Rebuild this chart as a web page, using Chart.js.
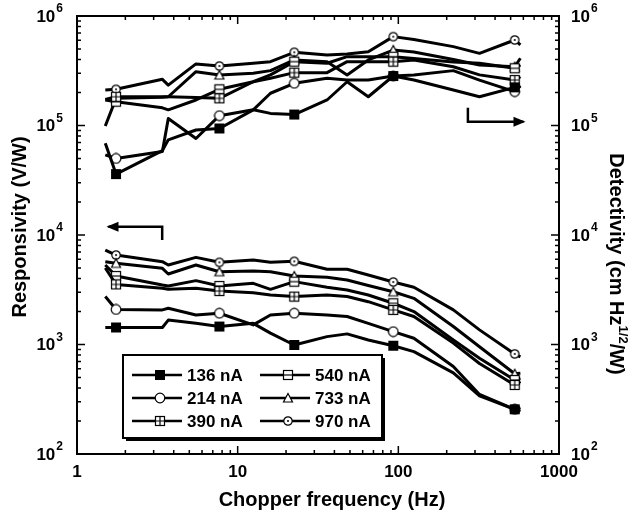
<!DOCTYPE html>
<html>
<head>
<meta charset="utf-8">
<script src="https://cdn.jsdelivr.net/npm/chart.js@4.4.0/dist/chart.umd.min.js"></script>
<style>
  html, body { margin: 0; padding: 0; background: #fff; }
</style>
</head>
<body>
<canvas id="chart" width="632" height="515"></canvas>
<script>
// chopper frequencies (Hz) shared by every curve
const freq = [1.5, 1.75, 3.4, 3.7, 5.5, 7.7, 12.5, 16, 22.5, 36, 48, 65, 93, 125, 220, 320, 530, 575];
// only these points carry a symbol
const markerIdx = [1, 5, 8, 12, 16];
const currents = ['136 nA', '214 nA', '390 nA', '540 nA', '733 nA', '970 nA'];
const markerKinds = ['filledSquare', 'circle', 'squarePlus', 'squareMinus', 'triangle', 'circleDot'];

// responsivity (V/W), left axis
const resp136 = [1430, 1430, 1430, 1670, 1560, 1460, 1560, 1270, 990, 1180, 1250, 1100, 975, 860, 550, 340, 256, 245];
const resp214 = [2740, 2090, 2070, 2140, 1860, 1930, 1510, 1860, 1930, 1860, 1800, 1560, 1310, 1140, 630, 350, 256, 265];
const resp390 = [5000, 3540, 3260, 3190, 3260, 3080, 2970, 2830, 2740, 2830, 2740, 2460, 2070, 1800, 1030, 670, 427, 460];
const resp540 = [5320, 4220, 3490, 3420, 3830, 3420, 3620, 3190, 3750, 3330, 3150, 2830, 2380, 2000, 1100, 750, 474, 490];
const resp733 = [5710, 5510, 4960, 4400, 5320, 4620, 4690, 4620, 4220, 4110, 3880, 3460, 3030, 2640, 1460, 955, 540, 546];
const resp970 = [7290, 6560, 5710, 5320, 6250, 5630, 5910, 5630, 5750, 4860, 4860, 4310, 3720, 3330, 2070, 1360, 820, 770];

// detectivity (cm Hz^1/2 / W), right axis
const det136 = [69000, 36000, 59000, 74000, 91000, 94000, 139000, 129000, 126000, 171000, 251000, 183000, 283000, 260000, 211000, 183000, 223000, 230000];
const det214 = [54000, 50000, 58000, 116000, 76000, 123000, 139000, 197000, 243000, 270000, 260000, 260000, 283000, 289000, 317000, 260000, 204000, 230000];
const det390 = [173000, 183000, 183000, 183000, 180000, 177000, 251000, 270000, 304000, 304000, 383000, 383000, 383000, 397000, 344000, 290000, 260000, 279000];
const det540 = [171000, 165000, 145000, 139000, 171000, 214000, 251000, 290000, 383000, 370000, 425000, 425000, 425000, 410000, 380000, 370000, 333000, 357000];
const det733 = [99000, 177000, 181000, 183000, 310000, 289000, 300000, 317000, 397000, 383000, 289000, 397000, 489000, 470000, 400000, 357000, 344000, 411000];
const det970 = [211000, 214000, 264000, 234000, 365000, 349000, 370000, 383000, 466000, 440000, 450000, 472000, 648000, 610000, 525000, 456000, 604000, 544000];

const respSeries = [resp136, resp214, resp390, resp540, resp733, resp970];
const detSeries = [det136, det214, det390, det540, det733, det970];

// arrows telling which axis each group belongs to (data coordinates)
const leftArrow = {axis: 'y', pts: [[3.39, 9000], [3.39, 11900], [1.57, 11900]]};
const rightArrow = {axis: 'y2', pts: [[271, 145000], [271, 108000], [601, 108000]]};

const FONT = '"Liberation Sans", Arial, sans-serif';

function makeMarker(kind){
    const s = 12;
    const c = document.createElement('canvas');
    c.width = s; c.height = s;
    const g = c.getContext('2d');
    g.strokeStyle = '#000';
    g.fillStyle = '#fff';
    g.lineWidth = 1.2;
    const m = s / 2;
    if (kind === 'filledSquare'){
        g.fillStyle = '#000';
        g.fillRect(1, 1, 10, 10);
    } else if (kind === 'circle'){
        g.beginPath(); g.arc(m, m, 4.8, 0, Math.PI * 2); g.fill(); g.stroke();
    } else if (kind === 'squarePlus' || kind === 'squareMinus'){
        g.fillRect(1.5, 1.5, 9, 9); g.strokeRect(1.5, 1.5, 9, 9);
        g.beginPath();
        g.moveTo(1.5, m); g.lineTo(10.5, m);
        if (kind === 'squarePlus'){ g.moveTo(m, 1.5); g.lineTo(m, 10.5); }
        g.stroke();
    } else if (kind === 'triangle'){
        g.beginPath(); g.moveTo(m, 1.5); g.lineTo(10.5, 10); g.lineTo(1.5, 10); g.closePath();
        g.fill(); g.stroke();
    } else if (kind === 'circleDot'){
        g.beginPath(); g.arc(m, m, 4.2, 0, Math.PI * 2); g.fill(); g.stroke();
        g.fillStyle = '#000';
        g.beginPath(); g.arc(m, m, 1, 0, Math.PI * 2); g.fill();
    }
    return c;
}
const markers = markerKinds.map(makeMarker);

function makeDataset(values, i, axis){
    return {
        label: currents[i],
        yAxisID: axis,
        data: freq.map((f, k) => ({x: f, y: values[k]})),
        borderColor: '#000',
        borderWidth: 3,
        borderJoinStyle: 'round',
        tension: 0,
        pointStyle: markers[i],
        pointRadius: ctx => markerIdx.includes(ctx.dataIndex) ? 5 : 0,
        marker: markers[i]
    };
}

const datasets = [
    ...respSeries.map((v, i) => makeDataset(v, i, 'y')),
    ...detSeries.map((v, i) => makeDataset(v, i, 'y2'))
];

function logTicks(min, max){
    const out = [];
    for (let n = Math.round(Math.log10(min)); Math.pow(10, n) <= max; n++){
        for (let m = 1; m <= 9; m++){
            const v = m * Math.pow(10, n);
            if (v >= min && v <= max) out.push({v, major: m === 1});
        }
    }
    return out;
}

// "10" with a raised exponent; align is 'left', 'right' or 'center'
function drawPow(ctx, exp, x, y, align){
    ctx.font = `bold 17px ${FONT}`;
    const wb = ctx.measureText('10').width;
    ctx.font = `bold 12px ${FONT}`;
    const we = ctx.measureText(String(exp)).width;
    const total = wb + we + 1;
    let x0 = x;
    if (align === 'right') x0 = x - total;
    if (align === 'center') x0 = x - total / 2;
    ctx.textAlign = 'left';
    ctx.textBaseline = 'middle';
    ctx.font = `bold 17px ${FONT}`;
    ctx.fillText('10', x0, y + 1);
    ctx.font = `bold 12px ${FONT}`;
    ctx.fillText(String(exp), x0 + wb + 1, y - 7);
}

const framePlugin = {
    id: 'frame',
    afterDatasetsDraw(chart){
        const {ctx, chartArea: a, scales} = chart;
        const {x, y, y2} = scales;
        ctx.save();
        ctx.strokeStyle = '#000';
        ctx.fillStyle = '#000';
        ctx.lineWidth = 2;
        ctx.strokeRect(a.left, a.top, a.right - a.left, a.bottom - a.top);

        // inward ticks on all four sides
        ctx.lineWidth = 1.5;
        ctx.beginPath();
        logTicks(x.min, x.max).forEach(t => {
            const px = x.getPixelForValue(t.v);
            const len = t.major ? 8 : 4;
            ctx.moveTo(px, a.bottom); ctx.lineTo(px, a.bottom - len);
            ctx.moveTo(px, a.top); ctx.lineTo(px, a.top + len);
        });
        logTicks(y.min, y.max).forEach(t => {
            const py = y.getPixelForValue(t.v);
            ctx.moveTo(a.left, py); ctx.lineTo(a.left + (t.major ? 8 : 4), py);
        });
        logTicks(y2.min, y2.max).forEach(t => {
            const py = y2.getPixelForValue(t.v);
            ctx.moveTo(a.right, py); ctx.lineTo(a.right - (t.major ? 8 : 4), py);
        });
        ctx.stroke();

        // tick labels
        logTicks(y.min, y.max).filter(t => t.major).forEach(t => {
            drawPow(ctx, Math.round(Math.log10(t.v)), a.left - 14, y.getPixelForValue(t.v), 'right');
        });
        logTicks(y2.min, y2.max).filter(t => t.major).forEach(t => {
            drawPow(ctx, Math.round(Math.log10(t.v)), a.right + 12, y2.getPixelForValue(t.v), 'left');
        });
        ctx.font = `bold 17px ${FONT}`;
        ctx.textAlign = 'center';
        ctx.textBaseline = 'middle';
        logTicks(x.min, x.max).filter(t => t.major).forEach(t => {
            ctx.fillText(String(t.v), x.getPixelForValue(t.v), a.bottom + 18);
        });

        // axis titles
        ctx.font = `bold 20px ${FONT}`;
        ctx.fillText('Chopper frequency (Hz)', (a.left + a.right) / 2 + 14, a.bottom + 46);

        ctx.save();
        ctx.translate(20, 227);
        ctx.rotate(-Math.PI / 2);
        ctx.fillText('Responsivity (V/W)', 0, 0);
        ctx.restore();

        ctx.save();
        ctx.translate(616, 264);
        ctx.rotate(Math.PI / 2);
        const parts = [['Detectivity (cm Hz', 20, 0], ['1/2', 13, -7], ['/W)', 20, 0]];
        const widths = parts.map(p => { ctx.font = `bold ${p[1]}px ${FONT}`; return ctx.measureText(p[0]).width; });
        let cx = -widths.reduce((s, w) => s + w, 0) / 2;
        ctx.textAlign = 'left';
        parts.forEach((p, i) => {
            ctx.font = `bold ${p[1]}px ${FONT}`;
            ctx.fillText(p[0], cx, p[2]);
            cx += widths[i];
        });
        ctx.restore();

        // axis arrows
        [leftArrow, rightArrow].forEach(ar => {
            const ys = scales[ar.axis];
            const pts = ar.pts.map(p => [x.getPixelForValue(p[0]), ys.getPixelForValue(p[1])]);
            ctx.lineWidth = 2.5;
            ctx.beginPath();
            ctx.moveTo(pts[0][0], pts[0][1]);
            pts.slice(1).forEach(p => ctx.lineTo(p[0], p[1]));
            ctx.stroke();
            const [tx, ty] = pts[pts.length - 1];
            const dir = Math.sign(tx - pts[pts.length - 2][0]);
            ctx.beginPath();
            ctx.moveTo(tx + dir * 2, ty);
            ctx.lineTo(tx - dir * 10, ty - 5);
            ctx.lineTo(tx - dir * 10, ty + 5);
            ctx.closePath();
            ctx.fill();
        });
        ctx.restore();
    }
};

const legendPlugin = {
    id: 'boxLegend',
    afterDraw(chart){
        const {ctx, chartArea: a} = chart;
        const bx = a.left + 46, by = a.top + 339, bw = 259, bh = 83;
        ctx.save();
        ctx.fillStyle = '#000';
        ctx.fillRect(bx + 3, by + 3, bw, bh);
        ctx.fillStyle = '#fff';
        ctx.fillRect(bx, by, bw, bh);
        ctx.strokeStyle = '#000';
        ctx.lineWidth = 2;
        ctx.strokeRect(bx, by, bw, bh);

        ctx.font = `bold 17px ${FONT}`;
        ctx.textAlign = 'left';
        ctx.textBaseline = 'middle';
        chart.data.datasets.slice(0, 6).forEach((ds, i) => {
            const col = i < 3 ? 0 : 1;
            const row = i % 3;
            const lx = bx + 9 + col * 128;
            const ly = by + 20 + row * 23;
            ctx.lineWidth = 2.5;
            ctx.beginPath();
            ctx.moveTo(lx, ly); ctx.lineTo(lx + 50, ly);
            ctx.stroke();
            const mk = ds.marker;
            ctx.drawImage(mk, lx + 28 - mk.width / 2, ly - mk.height / 2);
            ctx.fillStyle = '#000';
            ctx.fillText(ds.label, lx + 55, ly + 1);
        });
        ctx.restore();
    }
};

// legend order in the box: left column 136/214/390, right column 540/733/970
new Chart(document.getElementById('chart'), {
    type: 'line',
    data: {datasets},
    options: {
        responsive: false,
        animation: false,
        events: [],
        layout: {padding: {left: 77, top: 16, right: 73, bottom: 61}},
        scales: {
            x: {type: 'logarithmic', min: 1, max: 1000, display: false},
            y: {type: 'logarithmic', position: 'left', min: 100, max: 1e6, display: false},
            y2: {type: 'logarithmic', position: 'right', min: 100, max: 1e6, display: false}
        },
        plugins: {
            legend: {display: false},
            tooltip: {enabled: false}
        }
    },
    plugins: [framePlugin, legendPlugin]
});
</script>
</body>
</html>
